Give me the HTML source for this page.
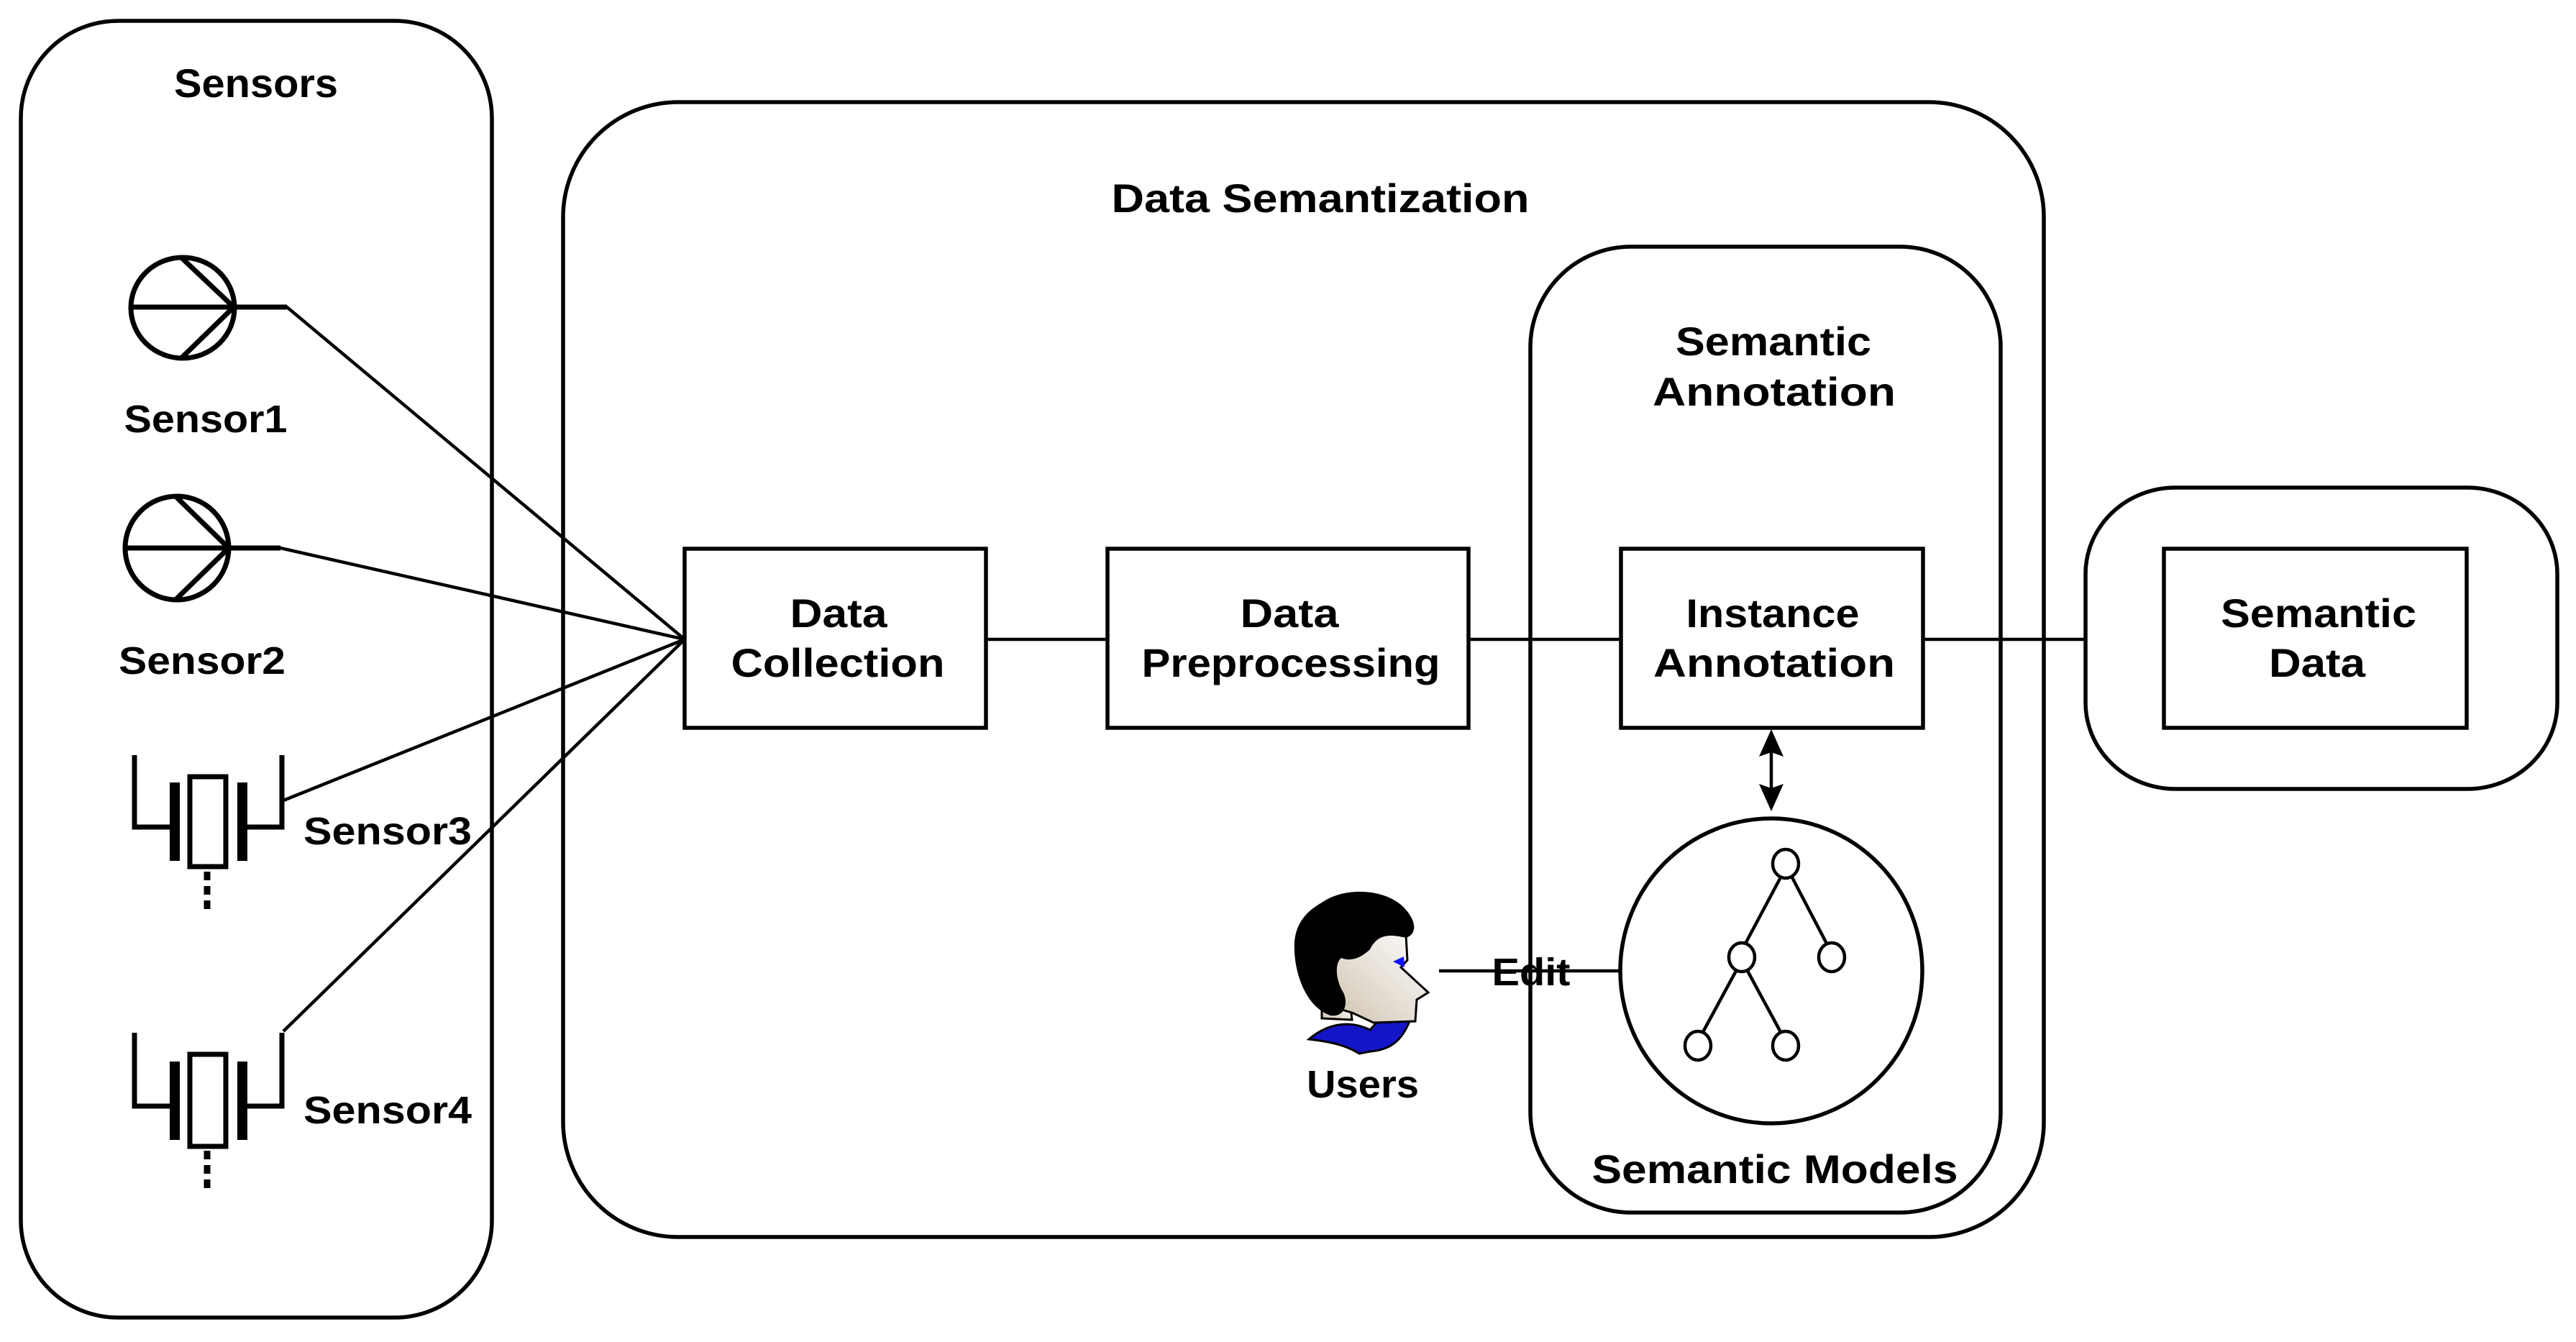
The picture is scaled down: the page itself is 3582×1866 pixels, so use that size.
<!DOCTYPE html>
<html><head><meta charset="utf-8"><style>
html,body{margin:0;padding:0;background:#fff;}
svg{display:block;}
text{font-family:"Liberation Sans",sans-serif;font-weight:bold;fill:#000;}
</style></head><body>
<svg width="3582" height="1866" viewBox="0 0 3582 1866" xmlns="http://www.w3.org/2000/svg">
<defs>
<linearGradient id="face" x1="0" y1="1" x2="1" y2="0">
<stop offset="0" stop-color="#cfc3b0"/><stop offset="1" stop-color="#ffffff"/>
</linearGradient>
</defs>
<g fill="none" stroke="#000" stroke-width="5.5">
<rect x="29" y="29" width="655" height="1803" rx="135" ry="135"/>
<rect x="783" y="142" width="2059" height="1578" rx="160" ry="160"/>
<rect x="2128" y="343" width="654" height="1343" rx="140" ry="140"/>
<rect x="2900" y="678" width="656" height="419" rx="125" ry="120"/>
<rect x="952" y="763" width="419" height="249"/>
<rect x="1540" y="763" width="502" height="249"/>
<rect x="2254" y="763" width="420" height="249"/>
<rect x="3009" y="763" width="421" height="249"/>
</g>
<g stroke="#000" stroke-width="4.5" fill="none">
<line x1="1371" y1="889" x2="1540" y2="889"/>
<line x1="2042" y1="889" x2="2254" y2="889"/>
<line x1="2674" y1="889" x2="2900" y2="889"/>
<polyline points="327,427 399,427 952,889"/>
<polyline points="319,762 390,762 952,889"/>
<line x1="394" y1="1113" x2="952" y2="889"/>
<line x1="394" y1="1434" x2="952" y2="889"/>
<line x1="2001" y1="1350" x2="2254" y2="1350"/>
<line x1="2463" y1="1040" x2="2463" y2="1100"/>
</g>
<polygon points="2463,1014 2446,1052 2463,1046 2480,1052" fill="#000"/>
<polygon points="2463,1128 2446,1090 2463,1096 2480,1090" fill="#000"/>
<g stroke="#000" stroke-width="5.5" fill="none">
<ellipse cx="2463" cy="1350" rx="210" ry="212"/>
</g>
<g stroke="#000" stroke-width="4.5" fill="#fff">
<line x1="2476" y1="1220" x2="2427" y2="1312"/>
<line x1="2492" y1="1220" x2="2540" y2="1312"/>
<line x1="2414" y1="1350" x2="2368" y2="1435"/>
<line x1="2430" y1="1350" x2="2476" y2="1435"/>
<ellipse cx="2483" cy="1201" rx="18" ry="20"/>
<ellipse cx="2422" cy="1331" rx="18" ry="20"/>
<ellipse cx="2547" cy="1331" rx="18" ry="20"/>
<ellipse cx="2361" cy="1454" rx="18" ry="20"/>
<ellipse cx="2483" cy="1454" rx="18" ry="20"/>
</g>
<g stroke="#000" stroke-width="7" fill="none">
<ellipse cx="254" cy="428" rx="72" ry="70"/>
<line x1="182" y1="427" x2="327" y2="427"/>
<polyline points="252,358 325,427 252,498"/>
<ellipse cx="246" cy="762" rx="72" ry="72"/>
<line x1="174" y1="762" x2="390" y2="762"/>
<polyline points="244,690 318,762 244,834"/>
<line x1="327" y1="427" x2="399" y2="427"/>
</g>
<g stroke="#000" stroke-width="7" fill="none">
<polyline points="187,1050 187,1150 240,1150"/>
<polyline points="392,1050 392,1150 340,1150"/>
<rect x="264" y="1080" width="50" height="125"/>
<line x1="288" y1="1212" x2="288" y2="1264" stroke-width="9" stroke-dasharray="12,8"/>
</g>
<rect x="236" y="1088" width="14" height="109" fill="#000"/>
<rect x="330" y="1088" width="14" height="109" fill="#000"/>
<g stroke="#000" stroke-width="7" fill="none">
<polyline points="187,1436 187,1538 240,1538"/>
<polyline points="392,1436 392,1538 340,1538"/>
<rect x="264" y="1466" width="50" height="128"/>
<line x1="288" y1="1600" x2="288" y2="1652" stroke-width="9" stroke-dasharray="12,8"/>
</g>
<rect x="236" y="1476" width="14" height="109" fill="#000"/>
<rect x="330" y="1476" width="14" height="109" fill="#000"/>
<path d="M1838,1416 L1838,1400 L1878,1400 L1880,1418 Z" fill="url(#face)" stroke="#000" stroke-width="3"/>
<path d="M1820,1445 C1850,1420 1880,1420 1905,1432 L1930,1405 L1960,1420 C1950,1445 1935,1460 1905,1462 L1890,1465 C1870,1452 1845,1448 1820,1445 Z" fill="#1515c8" stroke="#000" stroke-width="3"/>
<path d="M1858,1300 C1890,1292 1920,1295 1955,1300 L1957,1335 L1948,1345 L1986,1380 L1970,1390 L1968,1420 L1910,1422 L1880,1408 L1852,1400 Z" fill="url(#face)" stroke="#000" stroke-width="3"/>
<path d="M1838,1255 C1870,1232 1930,1235 1955,1265 C1972,1285 1968,1300 1955,1304 C1930,1298 1915,1300 1905,1320 C1895,1330 1880,1338 1865,1332 C1855,1340 1858,1365 1868,1380 C1875,1395 1870,1415 1850,1412 C1815,1400 1798,1350 1800,1310 C1802,1285 1815,1268 1838,1255 Z" fill="#000"/>
<path d="M1937,1337 L1952,1330 L1953,1345 Z" fill="#1010ff"/>
<text x="356" y="135" font-size="56" text-anchor="middle" textLength="228" lengthAdjust="spacingAndGlyphs">Sensors</text>
<text x="1836" y="295" font-size="56" text-anchor="middle" textLength="581" lengthAdjust="spacingAndGlyphs">Data Semantization</text>
<text x="2466" y="494" font-size="56" text-anchor="middle" textLength="272" lengthAdjust="spacingAndGlyphs">Semantic</text>
<text x="2467" y="564" font-size="56" text-anchor="middle" textLength="338" lengthAdjust="spacingAndGlyphs">Annotation</text>
<text x="1166" y="872" font-size="56" text-anchor="middle" textLength="135" lengthAdjust="spacingAndGlyphs">Data</text>
<text x="1165" y="941" font-size="56" text-anchor="middle" textLength="297" lengthAdjust="spacingAndGlyphs">Collection</text>
<text x="1793" y="872" font-size="56" text-anchor="middle" textLength="137" lengthAdjust="spacingAndGlyphs">Data</text>
<text x="1795" y="941" font-size="56" text-anchor="middle" textLength="415" lengthAdjust="spacingAndGlyphs">Preprocessing</text>
<text x="2465" y="872" font-size="56" text-anchor="middle" textLength="241" lengthAdjust="spacingAndGlyphs">Instance</text>
<text x="2467" y="941" font-size="56" text-anchor="middle" textLength="336" lengthAdjust="spacingAndGlyphs">Annotation</text>
<text x="3224" y="872" font-size="56" text-anchor="middle" textLength="272" lengthAdjust="spacingAndGlyphs">Semantic</text>
<text x="3222" y="941" font-size="56" text-anchor="middle" textLength="134" lengthAdjust="spacingAndGlyphs">Data</text>
<text x="286" y="601" font-size="54" text-anchor="middle" textLength="227" lengthAdjust="spacingAndGlyphs">Sensor1</text>
<text x="281" y="937" font-size="54" text-anchor="middle" textLength="232" lengthAdjust="spacingAndGlyphs">Sensor2</text>
<text x="422" y="1174" font-size="54" textLength="234" lengthAdjust="spacingAndGlyphs">Sensor3</text>
<text x="422" y="1562" font-size="54" textLength="234" lengthAdjust="spacingAndGlyphs">Sensor4</text>
<text x="2129" y="1370" font-size="54" text-anchor="middle" textLength="109" lengthAdjust="spacingAndGlyphs">Edit</text>
<text x="1895" y="1526" font-size="54" text-anchor="middle" textLength="156" lengthAdjust="spacingAndGlyphs">Users</text>
<text x="2468" y="1645" font-size="56" text-anchor="middle" textLength="509" lengthAdjust="spacingAndGlyphs">Semantic Models</text>
</svg>
</body></html>
